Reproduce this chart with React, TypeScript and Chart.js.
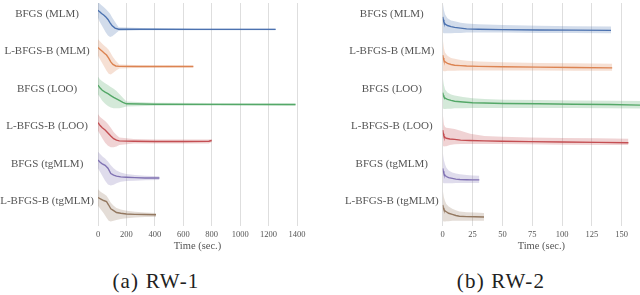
import React, { useEffect, useRef } from 'react';
import { Chart, registerables } from 'chart.js';
Chart.register(...registerables);

// ---------- shared ----------
const methods = ['BFGS (MLM)', 'L-BFGS-B (MLM)', 'BFGS (LOO)', 'L-BFGS-B (LOO)', 'BFGS (tgMLM)', 'L-BFGS-B (tgMLM)'];
const lineColors = ['#4C72B0', '#DD8452', '#55A868', '#C44E52', '#8172B3', '#937860'];
const bandColors = ['rgba(76,114,176,0.25)', 'rgba(221,132,82,0.25)', 'rgba(85,168,104,0.25)', 'rgba(196,78,82,0.25)', 'rgba(129,114,179,0.25)', 'rgba(147,120,96,0.25)'];
const labelOffset = 0.104;

// ---------- RW-1 ----------
const rw1Ticks = [0, 200, 400, 600, 800, 1000, 1200, 1400];
const rw1Times = [
  [0, 10, 25, 40, 55, 70, 85, 100, 120, 145, 300, 700, 1250],
  [0, 15, 30, 45, 60, 75, 90, 105, 125, 150, 300, 671],
  [0, 15, 30, 50, 70, 90, 110, 130, 150, 175, 200, 400, 800, 1390],
  [0, 15, 30, 50, 70, 90, 110, 130, 150, 250, 400, 600, 780, 800],
  [0, 15, 30, 50, 70, 90, 110, 130, 160, 200, 260, 330, 432],
  [0, 20, 40, 60, 75, 90, 110, 130, 160, 200, 260, 330, 408],
];
const rw1Mean = [
  [0, .04, .09, .13, .18, .25, .34, .42, .48, .51, .51, .515, .515],
  [0, .05, .1, .15, .2, .28, .38, .45, .49, .5, .505, .505],
  [0, .08, .14, .19, .23, .28, .33, .37, .41, .46, .5, .51, .515, .52],
  [0, .08, .14, .2, .28, .36, .43, .47, .49, .5, .505, .505, .5, .48],
  [0, .06, .1, .14, .22, .36, .4, .43, .45, .46, .47, .48, .48],
  [0, .04, .08, .11, .2, .3, .35, .4, .42, .44, .45, .455, .46],
];
const rw1Hi = [
  [-.22, -.18, -.13, -.08, -.03, .03, .1, .2, .32, .46, .48, .49, .49],
  [-.22, -.16, -.1, -.05, 0, .06, .15, .25, .35, .45, .47, .48],
  [-.22, -.15, -.1, -.05, 0, .05, .1, .16, .24, .34, .44, .47, .48, .49],
  [-.22, -.15, -.1, -.04, .04, .14, .25, .33, .4, .44, .45, .45, .45, .44],
  [-.22, -.16, -.1, -.04, .04, .14, .22, .28, .33, .37, .4, .42, .43],
  [-.22, -.15, -.1, -.05, .04, .14, .22, .28, .32, .35, .38, .4, .41],
];
const rw1Lo = [
  [.2, .3, .4, .5, .6, .68, .72, .7, .64, .56, .54, .54, .54],
  [.22, .32, .42, .52, .62, .7, .72, .68, .62, .56, .54, .53],
  [.25, .33, .42, .5, .56, .6, .62, .62, .62, .6, .57, .55, .55, .55],
  [.22, .32, .42, .54, .62, .66, .66, .64, .6, .56, .56, .56, .56, .52],
  [.22, .32, .42, .55, .65, .68, .66, .62, .58, .56, .55, .54, .53],
  [.22, .32, .42, .54, .62, .64, .62, .6, .57, .55, .53, .52, .52],
];

// ---------- RW-2 ----------
const rw2Ticks = [0, 25, 50, 75, 100, 125, 150];
const rw2Times = [
  [0, .5, 1, 2, 4, 7, 10, 15, 20, 30, 50, 80, 110, 141],
  [0, .5, 1, 2, 4, 7, 10, 15, 20, 30, 50, 80, 110, 142],
  [0, .5, 1, 2, 4, 7, 10, 17, 25, 35, 51, 80, 110, 140, 175],
  [0, .5, 1, 2, 3, 6, 10, 15, 23, 35, 50, 73, 100, 130, 155.6],
  [0, .5, 1, 2, 3, 5, 8, 11, 14.5, 20, 25, 30.7],
  [0, .5, 1, 2, 3, 5, 8, 11, 14, 20, 27, 34.6],
];
const rw2Mean = [
  [.18, .26, .32, .37, .41, .44, .46, .48, .5, .51, .52, .53, .535, .54],
  [.2, .28, .34, .38, .42, .45, .47, .48, .49, .5, .51, .52, .53, .54],
  [.2, .27, .31, .35, .38, .41, .43, .45, .47, .48, .49, .5, .51, .52, .54],
  [.2, .3, .36, .4, .42, .44, .45, .47, .48, .49, .5, .51, .52, .53, .54],
  [.22, .3, .36, .41, .44, .47, .49, .51, .52, .525, .53, .53],
  [.2, .27, .32, .36, .38, .42, .45, .48, .5, .51, .515, .52],
];
const rw2Hi = [
  [-.22, -.1, 0, .12, .22, .28, .3, .34, .36, .38, .4, .42, .43, .44],
  [-.25, -.1, .02, .14, .22, .28, .3, .33, .35, .37, .39, .41, .42, .43],
  [-.25, -.1, 0, .12, .2, .25, .28, .32, .35, .37, .39, .4, .41, .42, .43],
  [-.25, -.1, .05, .12, .14, .15, .17, .22, .3, .36, .38, .4, .41, .42, .43],
  [-.22, -.1, 0, .12, .2, .28, .33, .36, .38, .4, .41, .42],
  [-.2, -.1, 0, .1, .17, .24, .3, .34, .37, .39, .4, .41],
];
const rw2Lo = [
  [.6, .62, .62, .62, .62, .62, .61, .61, .6, .6, .6, .61, .61, .62],
  [.62, .63, .63, .63, .62, .62, .62, .61, .61, .61, .61, .61, .62, .62],
  [.62, .64, .64, .64, .63, .63, .62, .62, .61, .61, .61, .61, .61, .62, .63],
  [.62, .64, .64, .63, .63, .6, .58, .57, .57, .57, .57, .58, .59, .6, .6],
  [.6, .62, .62, .62, .62, .62, .62, .61, .61, .61, .61, .61],
  [.6, .63, .64, .64, .63, .63, .62, .62, .62, .62, .62, .62],
];

const TEXT = '#555555';
const FONT = "'Liberation Serif', 'Times New Roman', serif";

type PanelProps = {
  times: number[][]; mean: number[][]; hi: number[][]; lo: number[][];
  ticks: number[]; xMax: number; yAxisWidth: number; padRight: number;
};

function Panel({ times, mean, hi, lo, ticks, xMax, yAxisWidth, padRight }: PanelProps) {
  const ref = useRef<HTMLCanvasElement | null>(null);
  useEffect(() => {
    if (!ref.current) return;
    const datasets: any[] = [];
    methods.forEach((_, i) => {
      const t = times[i];
      datasets.push({
        data: t.map((x, k) => ({ x, y: i + hi[i][k] })),
        borderWidth: 0, pointRadius: 0, fill: '+1', backgroundColor: bandColors[i], borderColor: 'transparent',
      });
      datasets.push({
        data: t.map((x, k) => ({ x, y: i + lo[i][k] })),
        borderWidth: 0, pointRadius: 0, fill: false, borderColor: 'transparent',
      });
      datasets.push({
        data: t.map((x, k) => ({ x, y: i + mean[i][k] })),
        borderWidth: 1.4, pointRadius: 0, fill: false, borderColor: lineColors[i],
      });
    });
    const chart = new Chart(ref.current, {
      type: 'line',
      data: { datasets },
      options: {
        animation: false,
        responsive: false,
        layout: { padding: { top: 3, right: padRight, left: 0, bottom: 0 } },
        plugins: { legend: { display: false }, tooltip: { enabled: false } },
        scales: {
          x: {
            type: 'linear', min: 0, max: xMax,
            grid: { color: '#dedede', lineWidth: 1, drawTicks: false },
            border: { display: false },
            ticks: {
              autoSkip: false, maxRotation: 0, padding: 4, color: TEXT,
              font: { family: FONT, size: 8.5 },
              callback: (v: any) => String(v),
            },
            afterBuildTicks: (s: any) => { s.ticks = ticks.map((v) => ({ value: v })); },
            afterFit: (s: any) => { s.height = 29; s.paddingLeft = 0; s.paddingRight = 0; },
            title: { display: true, text: 'Time (sec.)', color: TEXT, font: { family: FONT, size: 10.5 }, padding: { top: 0, bottom: 2 } },
          },
          y: {
            type: 'linear', reverse: true, min: -0.19, max: 5.76,
            grid: { display: false, drawTicks: false },
            border: { display: false },
            ticks: {
              autoSkip: false, crossAlign: 'center', padding: 4, color: TEXT,
              font: { family: FONT, size: 11 },
              callback: (_v: any, idx: number) => methods[idx],
            },
            afterBuildTicks: (s: any) => { s.ticks = methods.map((_, i) => ({ value: i + labelOffset })); },
            afterFit: (s: any) => { s.width = yAxisWidth; s.paddingTop = 0; s.paddingBottom = 0; },
          },
        },
      } as any,
    });
    return () => chart.destroy();
  }, []);
  return <canvas ref={ref} width={320} height={255} style={{ display: 'block', width: 320, height: 255 }} />;
}

export default function App() {
  const cap: React.CSSProperties = {
    position: 'absolute', top: 271, width: 200, textAlign: 'center', fontFamily: FONT,
    fontSize: 21, lineHeight: '21px', letterSpacing: '1.2px', color: '#222',
  };
  return (
    <div style={{ position: 'absolute', left: 0, top: 0, width: 640, height: 295, background: '#fff', overflow: 'hidden' }}>
      <div style={{ position: 'absolute', left: 0, top: 0 }}>
        <Panel times={rw1Times} mean={rw1Mean} hi={rw1Hi} lo={rw1Lo} ticks={rw1Ticks} xMax={1400} yAxisWidth={98} padRight={23} />
      </div>
      <div style={{ position: 'absolute', left: 320, top: 0 }}>
        <Panel times={rw2Times} mean={rw2Mean} hi={rw2Hi} lo={rw2Lo} ticks={rw2Ticks} xMax={165.3} yAxisWidth={122.7} padRight={0} />
      </div>
      <div style={{ ...cap, left: 56 }}>(a) RW-1</div>
      <div style={{ ...cap, left: 401 }}>(b) RW-2</div>
    </div>
  );
}
